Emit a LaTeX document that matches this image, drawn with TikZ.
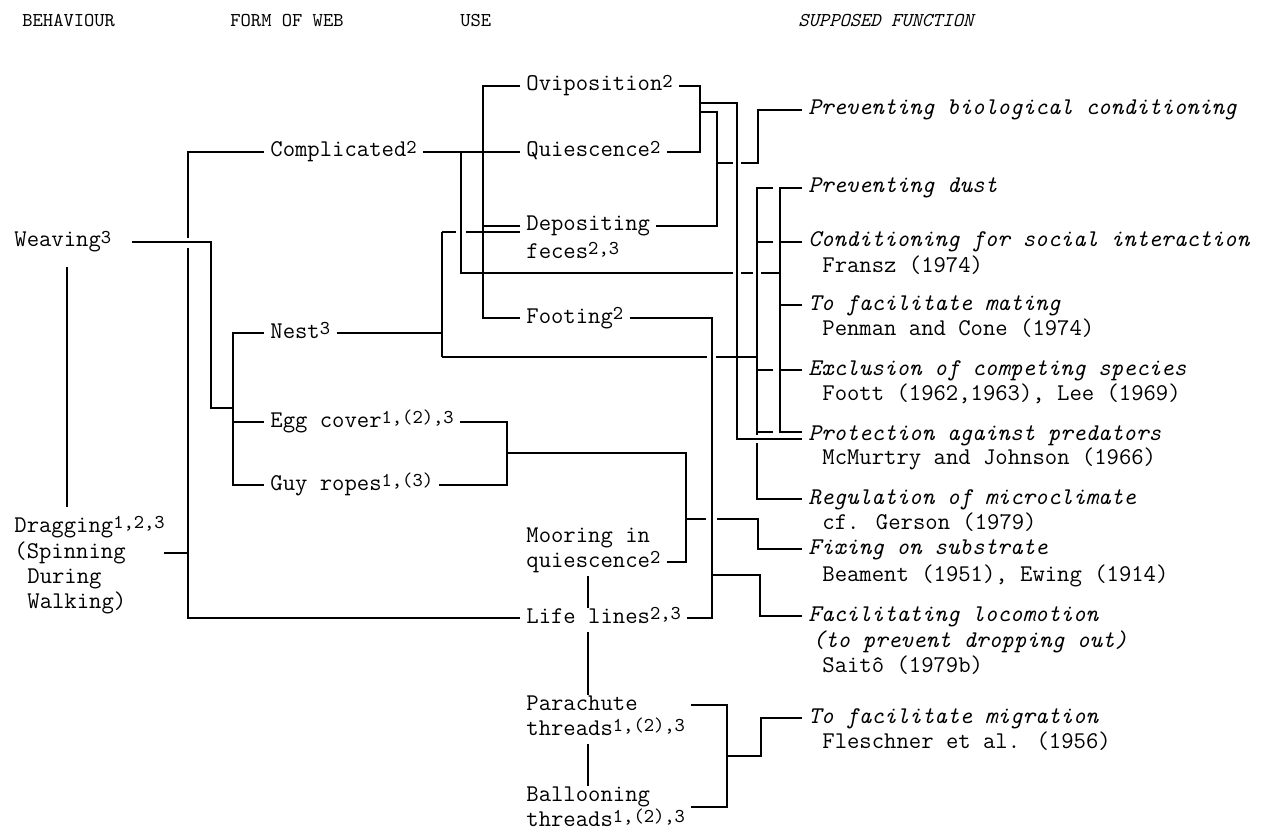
\documentclass[tikz,border=0pt]{standalone}
\usepackage{tikz}

\newcommand{\supx}[1]{\raisebox{0.35ex}{\fontsize{9.8}{11}\selectfont #1}}

\tikzset{
  hdr/.style={font=\fontsize{9.8}{11}\selectfont\ttfamily, anchor=west, inner sep=0pt},
  itm/.style={font=\fontsize{12}{14}\selectfont\ttfamily, anchor=west, inner xsep=3pt, inner ysep=0pt, text height=7.5pt, text depth=2.5pt},
  fn/.style={itm, font=\fontsize{12}{14}\selectfont\ttfamily\itshape},
  link/.style={line width=1.2pt}
}

\begin{document}
\begin{tikzpicture}[x=0.5pt,y=-0.5pt]
  \useasboundingbox (0,0) rectangle (1278,834);
  % kopjes
  \node[hdr] (h1) at (22,21) {BEHAVIOUR};
  \node[hdr] (h2) at (230,21) {FORM OF WEB};
  \node[hdr] (h3) at (460,21) {USE};
  \node[hdr] (h4) at (798,21) {\itshape SUPPOSED FUNCTION};

  % gedrag
  \node[itm] (wea) at (8,242) {Weaving\supx{3}};
  \node[itm] (drag) at (8,527) {Dragging\supx{1,2,3}};
  \node[itm] (spin) at (8,553) {(Spinning};
  \node[itm] (dur) at (21,578) {During};
  \node[itm] (walk) at (21,603) {Walking)};

  % vorm van het web
  \node[itm] (cmpl) at (264,152) {Complicated\supx{2}};
  \node[itm] (nest) at (264,333) {Nest\supx{3}};
  \node[itm] (egg) at (264,422) {Egg cover\supx{1,(2),3}};
  \node[itm] (guy) at (264,485) {Guy ropes\supx{1,(3)}};

  % gebruik
  \node[itm] (ovi) at (520,86) {Oviposition\supx{2}};
  \node[itm] (qui) at (520,152) {Quiescence\supx{2}};
  \node[itm] (dep) at (520,226) {Depositing};
  \node[itm] (fec) at (520,253) {feces\supx{2,3}};
  \node[itm] (foot) at (520,318) {Footing\supx{2}};
  \node[itm] (moor1) at (520,537) {Mooring in};
  \node[itm] (moor2) at (520,562) {quiescence\supx{2}};
  \node[itm] (life) at (520,618) {Life lines\supx{2,3}};
  \node[itm] (par1) at (520,705) {Parachute};
  \node[itm] (par2) at (520,730) {threads\supx{1,(2),3}};
  \node[itm] (bal1) at (520,796) {Ballooning};
  \node[itm] (bal2) at (520,821) {threads\supx{1,(2),3}};

  % vermoedelijke functie
  \node[fn] (pbio) at (802,110) {Preventing biological conditioning};
  \node[fn] (pdust) at (802,188) {Preventing dust};
  \node[fn] (cond) at (802,242) {Conditioning for social interaction};
  \node[itm] (fransz) at (816,267) {Fransz (1974)};
  \node[fn] (mate) at (802,305) {To facilitate mating};
  \node[itm] (penman) at (816,330) {Penman and Cone (1974)};
  \node[fn] (excl) at (802,370) {Exclusion of competing species};
  \node[itm] (foott) at (816,395) {Foott (1962,1963), Lee (1969)};
  \node[fn] (prot) at (802,435) {Protection against predators};
  \node[itm] (mcm) at (816,459) {McMurtry and Johnson (1966)};
  \node[fn] (regu) at (802,499) {Regulation of microclimate};
  \node[itm] (gers) at (816,524) {cf. Gerson (1979)};
  \node[fn] (fix) at (802,549) {Fixing on substrate};
  \node[itm] (beam) at (816,576) {Beament (1951), Ewing (1914)};
  \node[fn] (floc) at (802,616) {Facilitating locomotion};
  \node[fn] (drop) at (806,642) {(to prevent dropping out)};
  \node[itm] (saito) at (816,667) {Sait\^o (1979b)};
  \node[fn] (mig) at (802,718) {To facilitate migration};
  \node[itm] (flesch) at (816,743) {Fleschner et al. (1956)};

  % knooppunten
  \coordinate (xwd) at (211,408);
  \coordinate (xfw) at (233,408);
  \coordinate (xcd) at (188,553);
  \coordinate (xuse) at (483,152);
  \coordinate (xoq) at (700,120);
  \coordinate (xn) at (757,0);
  \coordinate (xc) at (780,0);
  \coordinate (xll) at (588,0);
  \coordinate (xpa) at (727,756);

  % gedrag -> vorm
  \draw[link] (wea.east) ++(7pt,0) -| (xwd) -- (xfw);
  \draw[link] (nest.west) -| (xfw) |- (guy.west);
  \draw[link] (egg.west) -- (egg.west -| xfw);
  \draw[link] (67,267) -- (67,507);
  \draw[link] (cmpl.west) -| (188,238);
  \draw[link] (188,248) |- (life.west);
  \draw[link] (spin.east) ++(16pt,0) -- (spin.east -| xcd);

  % vorm -> gebruik
  \draw[link] (cmpl.east) -- (xuse);
  \draw[link] (ovi.west) -| (xuse) |- (foot.west);
  \draw[link] (qui.west) -- (qui.west -| xuse);
  \draw[link] (dep.west) -- (dep.west -| xuse);
  \draw[link] (461,152) -- (461,273) -- (733,273) (741,273) -- (753,273) (761,273) -- (780,273);
  \draw[link] (nest.east) -- (442,333);
  \draw[link] (442,232) -- (442,357);
  \draw[link] (442,232) -- (456,232) (466,232) -- (dep.west |- 0,232);
  \draw[link] (442,357) -- (707,357) (716,357) -- (757,357);
  \draw[link] (egg.east) -| (507,453) |- (guy.east);

  % gebruik -> functie
  \draw[link] (ovi.east) -| (xoq) |- (qui.east);
  \draw[link] (700,103) -- (737,103) -- (737,439) -- (prot.west |- 0,439);
  \draw[link] (dep.east) -| (717,112) -- (700,112);
  \draw[link] (717,163) -- (733,163) (741,163) -| (758,110) -- (pbio.west);
  \draw[link] (773,188) -- (757,188) -- (757,435);
  \draw[link] (757,443) |- (regu.west);
  \foreach \n in {cond,excl}
    \draw[link] (xn |- \n.west) -- ++(16,0);
  \draw[link] (757,432) -- (773,432);
  \draw[link] (pdust.west) -| (780,432) -- (prot.west |- 0,432);
  \foreach \n in {cond,mate,excl}
    \draw[link] (\n.west) -- (\n.west -| xc);
  \draw[link] (foot.east) -| (712,575) |- (life.east);
  \draw[link] (712,575) -- (760,575) |- (floc.west);
  \draw[link] (507,453) -| (686,519) |- (moor2.east);
  \draw[link] (686,519) -- (706,519) (717,519) -| (758,549) -- (fix.west);
  \draw[link] (xll |- moor2.south) ++(0,4) -- (xll |- life.north);
  \draw[link] (xll |- life.south) ++(0,4) -- (xll |- par1.north);
  \draw[link] (xll |- par2.south) ++(0,4) -- (xll |- bal1.north);
  \draw[link] (par2.east |- par1.east) -| (xpa) |- (bal2.east |- 0,807);
  \draw[link] (xpa) -| (761,718) -- (mig.west);
\end{tikzpicture}
\end{document}
